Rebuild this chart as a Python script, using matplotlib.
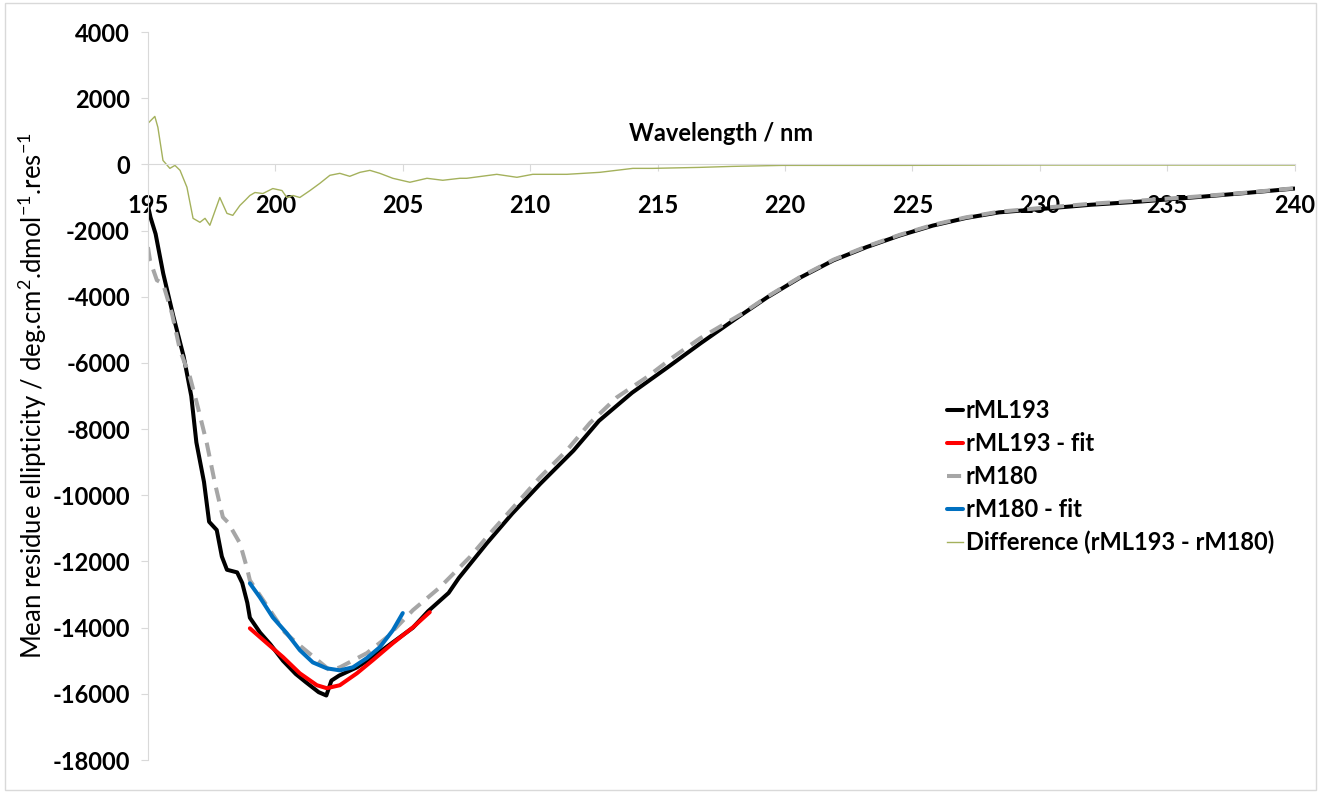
import matplotlib
matplotlib.use("Agg")
import matplotlib.pyplot as plt
from matplotlib.patches import Rectangle

plt.rcParams['font.family'] = ['Lato', 'DejaVu Sans']
plt.rcParams['mathtext.default'] = 'regular'
plt.rcParams['axes.unicode_minus'] = False

# rML193 spectrum
wl_ml = [195.0, 195.1, 195.3, 195.6, 196.0, 196.4, 196.7, 196.9, 197.2, 197.4, 197.7, 197.9,
         198.1, 198.5, 198.7, 198.9, 199.0, 199.4, 199.8, 200.3, 200.8, 201.2, 201.7, 202.0,
         202.2, 202.5, 203.2, 203.8, 204.6, 205.4, 206.0, 206.8, 207.2, 208.3, 209.3, 210.4,
         211.7, 212.7, 214.0, 215.4, 216.7, 218.0, 219.3, 220.6, 221.9, 223.2, 224.5, 225.8,
         227.1, 228.4, 230.0, 232.0, 234.0, 236.0, 238.0, 240.0]
mre_ml = [-1250, -1600, -2100, -3300, -4600, -5800, -7000, -8400, -9600, -10800, -11050, -11850,
          -12250, -12330, -12650, -13250, -13700, -14150, -14500, -15000, -15400, -15650, -15950, -16050,
          -15600, -15450, -15200, -14900, -14450, -14000, -13500, -12950, -12500, -11450, -10550, -9650,
          -8650, -7750, -6900, -6130, -5400, -4700, -4020, -3420, -2900, -2500, -2150, -1850,
          -1620, -1450, -1350, -1220, -1120, -1000, -870, -730]

# rML193 fit
wl_ml_fit = [199.0, 199.67, 200.3, 200.96, 201.63, 202.02, 202.53, 203.2, 203.83, 204.61, 205.4, 206.06]
mre_ml_fit = [-14020, -14470, -14890, -15380, -15740, -15830, -15740, -15380, -14980, -14470, -13990, -13530]

# rM180 spectrum
wl_m = [195.0, 195.08, 195.35, 195.59, 195.94, 196.26, 196.65, 196.96, 197.31, 197.63, 197.94, 198.14,
        198.61, 198.88, 199.0, 200.37, 200.85, 202.14, 202.53, 203.59, 204.38, 205.4, 206.46, 207.63,
        208.53, 209.48, 210.38, 211.44, 212.34, 213.4, 214.58, 215.6, 216.66, 218.34, 219.3, 220.6,
        221.9, 223.2, 224.5, 225.8, 227.1, 228.4, 230.0, 232.0, 234.0, 236.0, 238.0, 240.0]
mre_m = [-2500, -2900, -3500, -3600, -4500, -5620, -6430, -7340, -8430, -9640, -10660, -10820,
         -11450, -12180, -12570, -14140, -14470, -15290, -15200, -14770, -14290, -13470, -12780, -11870,
         -11060, -10240, -9460, -8640, -7820, -7040, -6430, -5830, -5260, -4500, -4000, -3400,
         -2880, -2480, -2130, -1830, -1600, -1430, -1320, -1190, -1090, -980, -860, -720]

# rM180 fit
wl_m_fit = [199.0, 199.39, 199.9, 200.45, 200.96, 201.47, 202.02, 202.53, 203.04, 203.59, 204.1, 204.61, 205.0]
mre_m_fit = [-12660, -13080, -13690, -14170, -14680, -15050, -15230, -15290, -15200, -14920, -14590, -14080, -13560]

# difference rML193 - rM180
wl_diff = [195.0, 195.27, 195.39, 195.59, 195.86, 196.06, 196.26, 196.53, 196.77, 197.04, 197.24, 197.43,
           197.82, 198.1, 198.33, 198.61, 198.81, 199.0, 199.2, 199.51, 199.9, 200.26, 200.45, 200.69,
           200.96, 201.36, 201.75, 202.14, 202.53, 202.92, 203.32, 203.71, 204.1, 204.61, 205.28, 205.95,
           206.57, 207.24, 207.51, 208.69, 209.48, 210.1, 211.44, 212.73, 214.03, 214.81, 216.66, 217.95,
           219.91, 224.5, 230.0, 235.0, 240.0]
mre_diff = [1240, 1450, 1120, 120, -120, -30, -180, -690, -1630, -1750, -1630, -1840,
            -1000, -1480, -1540, -1240, -1090, -940, -850, -880, -730, -790, -1000, -940,
            -1000, -790, -570, -330, -270, -360, -240, -180, -270, -420, -540, -420,
            -480, -420, -420, -300, -390, -300, -300, -240, -120, -120, -90, -60,
            -30, -30, -20, -20, -20]

y_ticks = list(range(-18000, 4001, 2000))
x_ticks = list(range(195, 241, 5))

fig = plt.figure(figsize=(13.21, 7.93), dpi=100)
ax = fig.add_axes([0.112, 0.0416, 0.868, 0.918])

ax.plot(wl_ml, mre_ml, color='black', lw=2.9, label='rML193', solid_capstyle='round')
ax.plot(wl_ml_fit, mre_ml_fit, color='#ff0000', lw=2.9, label='rML193 - fit', solid_capstyle='round')
ax.plot(wl_m, mre_m, color='#a6a6a6', lw=2.9, ls=(0, (3.5, 2.2)), label='rM180')
ax.plot(wl_m_fit, mre_m_fit, color='#0070c0', lw=2.9, label='rM180 - fit', solid_capstyle='round')
ax.plot(wl_diff, mre_diff, color='#a4b15c', lw=1.0, label='Difference (rML193 - rM180)')

ax.set_xlim(195, 240)
ax.set_ylim(-18000, 4000)
ax.set_xticks(x_ticks)
ax.set_yticks(y_ticks)

for s in ['top', 'right']:
    ax.spines[s].set_visible(False)
ax.spines['bottom'].set_position(('data', 0))
ax.spines['bottom'].set_color('#d9d9d9')
ax.spines['left'].set_color('#d9d9d9')
ax.tick_params(axis='x', length=5, color='#d9d9d9', pad=16, labelsize=17)
ax.tick_params(axis='y', length=5, color='#d9d9d9', pad=8, labelsize=17)
for lab in ax.get_xticklabels() + ax.get_yticklabels():
    lab.set_fontweight('bold')

ax.text(0.5, 0.861, 'Wavelength / nm', transform=ax.transAxes, ha='center', va='center',
        fontsize=17, fontweight='bold')
ax.set_ylabel(r'Mean residue ellipticity / deg.cm$^{2}$.dmol$^{-1}$.res$^{-1}$', fontsize=18.5)
ax.yaxis.set_label_coords(-0.086, 0.5)

leg = ax.legend(loc='upper left', bbox_to_anchor=(0.678, 0.525), frameon=False,
                handlelength=0.7, handletextpad=0.1, labelspacing=0.42,
                prop={'size': 17, 'weight': 'bold'})

fig.patches.append(Rectangle((0.004, 0.004), 0.992, 0.992, transform=fig.transFigure,
                             fill=False, edgecolor='#d9d9d9', lw=1))

fig.savefig('out.png', dpi=100)
